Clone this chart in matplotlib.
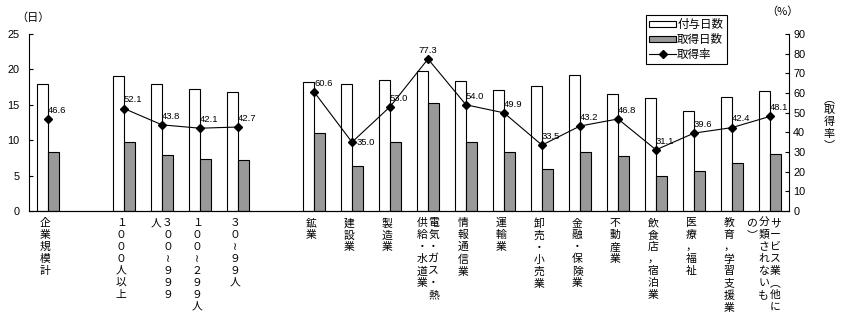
import numpy as np
import matplotlib
matplotlib.use("Agg")
import matplotlib.pyplot as plt
from matplotlib.patches import Patch
from matplotlib.lines import Line2D
from matplotlib.transforms import blended_transform_factory, offset_copy

plt.rcParams['font.family'] = ['Noto Sans CJK JP', 'DejaVu Sans']

# None = empty slot between groups
# each label is a list of vertical columns, right column first
categories = [
    ['企業規模計'],
    None,
    ['１０００人以上'],
    ['３００≀９９９', '人'],
    ['１００≀２９９人'],
    ['３０≀９９人'],
    None,
    ['鉱業'],
    ['建設業'],
    ['製造業'],
    ['電気・ガス・熱', '供給・水道業'],
    ['情報通信業'],
    ['運輸業'],
    ['卸売・小売業'],
    ['金融・保険業'],
    ['不動産業'],
    ['飲食店，宿泊業'],
    ['医療，福祉'],
    ['教育，学習支援業'],
    ['サービス業︵他に', '分類されないも', 'の︶'],
]
nan = np.nan
given_days = [17.9, nan, 19.0, 17.9, 17.2, 16.8, nan,
              18.2, 18.0, 18.5, 19.8, 18.4, 17.1, 17.6, 19.2, 16.5, 15.9, 14.1, 16.1, 16.9]
taken_days = [8.3, nan, 9.8, 7.9, 7.3, 7.2, nan,
              11.0, 6.3, 9.8, 15.2, 9.8, 8.4, 5.9, 8.3, 7.7, 4.9, 5.6, 6.8, 8.0]
take_rate = [46.6, nan, 52.1, 43.8, 42.1, 42.7, nan,
             60.6, 35.0, 53.0, 77.3, 54.0, 49.9, 33.5, 43.2, 46.8, 31.1, 39.6, 42.4, 48.1]

x = np.arange(len(categories))
w = 0.28

fig = plt.figure(figsize=(8.44, 3.24), dpi=100)
ax = fig.add_axes([29/844, 113/324, 760/844, 177/324])
ax2 = ax.twinx()

ax.bar(x - w/2, given_days, w, color='white', edgecolor='black', linewidth=0.8)
ax.bar(x + w/2, taken_days, w, color='#999999', edgecolor='black', linewidth=0.8)
ax2.plot(x, take_rate, color='black', linewidth=0.8, marker='D', markersize=3.8)

ax.set_xlim(-0.5, len(categories) - 0.5)
ax.set_ylim(0, 25)
ax2.set_ylim(0, 90)
ax.set_yticks(np.arange(0, 26, 5))
ax2.set_yticks(np.arange(0, 91, 10))
ax.set_xticks([])

for a in (ax, ax2):
    a.spines['top'].set_visible(False)
    for s in a.spines.values():
        s.set_linewidth(0.8)
ax.spines['right'].set_visible(False)
ax2.spines['left'].set_visible(False)
ax.tick_params(axis='y', direction='in', length=3, width=0.8, pad=7, labelsize=7.8)
ax2.tick_params(axis='y', direction='in', length=3, width=0.8, pad=3, labelsize=7.8)
for lab in ax.get_yticklabels() + ax2.get_yticklabels():
    lab.set_family('Liberation Sans')

# rate labels
special = {8: ((3, 0), 'left', 'center'), 10: ((0, 3), 'center', 'bottom')}
for i, r in enumerate(take_rate):
    if np.isnan(r):
        continue
    off, ha, va = special.get(i, ((0, 3), 'left', 'bottom'))
    ax2.annotate(f'{r:.1f}', (x[i], r), xytext=off, textcoords='offset points',
                 ha=ha, va=va, fontsize=6.8, family='Liberation Sans')

# vertical category labels
trans = blended_transform_factory(ax.transData, ax.transAxes)
for i, cols in enumerate(categories):
    if cols is None:
        continue
    for j, col in enumerate(cols):
        dx = -2 if len(cols) == 1 else 4 - 8.5 * j
        t = offset_copy(trans, fig=fig, x=dx, y=0, units='points')
        ax.text(x[i], -0.04, '\n'.join(col), transform=t, ha='center', va='top',
                fontsize=7.8, linespacing=1.24)

fig.text(33/844, 1 - 18/324, '（日）', ha='center', va='center', fontsize=8)
fig.text(782/844, 1 - 12/324, '（%）', ha='center', va='center', fontsize=8)
fig.text(829/844, 1 - 122/324, '︵\n取\n得\n率\n︶', ha='center', va='center',
         fontsize=8, linespacing=1.2)

handles = [Patch(facecolor='white', edgecolor='black', linewidth=0.8),
           Patch(facecolor='#999999', edgecolor='black', linewidth=0.8),
           Line2D([], [], color='black', linewidth=0.8, marker='D', markersize=3.8)]
leg = fig.legend(handles, ['付与日数', '取得日数', '取得率'], loc='upper left',
                 bbox_to_anchor=(646/844, 1 - 15/324), fontsize=8.3, fancybox=False,
                 framealpha=1, edgecolor='black', borderpad=0.3, labelspacing=0.15,
                 handlelength=2.3, handleheight=0.45, handletextpad=0.1, borderaxespad=0)
leg.get_frame().set_linewidth(0.8)

fig.savefig('out.png', dpi=100)
